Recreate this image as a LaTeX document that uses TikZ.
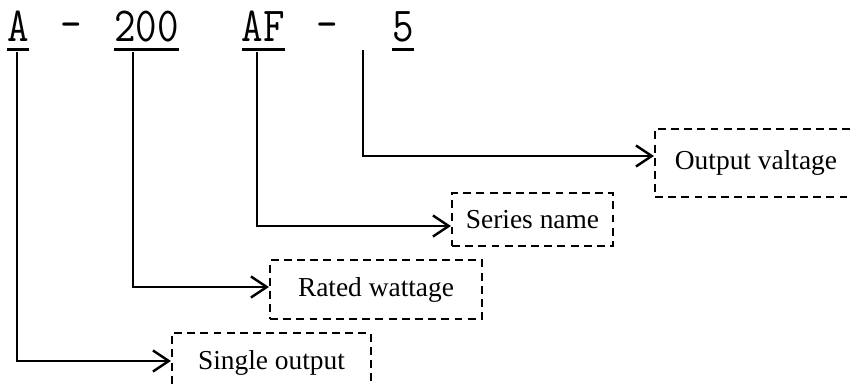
\documentclass[tikz,border=0pt]{standalone}
\usepackage{fontspec}
\setmainfont{Liberation Serif}
\usetikzlibrary{arrows.meta}
\newcommand{\tallchars}[1]{\scalebox{1}[1.17]{#1}}
\begin{document}
\begin{tikzpicture}[x=0.02cm,y=0.02cm,
        code/.style={font=\fontsize{23.8}{26}\selectfont\ttfamily, inner sep=0pt, text depth=0pt, anchor=base},
        uline/.style={line width=2pt},
        conn/.style={line width=1.4pt, -{Straight Barb[length=9pt,width=12pt]}},
        lbl/.style={draw, dash pattern=on 4.5pt off 3pt, line width=1.2pt, inner sep=0pt,
                font=\fontsize{15.6}{18}\selectfont}]
                \useasboundingbox (0,0) rectangle (851,385);

                % model code
                \node [code] (nA) at (18,343) {\tallchars{A}};
                \node [code] (dashA) at (71,345) {\tallchars{-}};
                \node [code] (nW) at (146.5,343) {\tallchars{200}};
                \node [code] (nS) at (263.5,343) {\tallchars{AF}};
                \node [code] (dashB) at (327.5,345) {\tallchars{-}};
                \node [code] (nV) at (403,343) {\tallchars{5}};

                \draw [uline] ([yshift=-0.14cm]nA.south west) -- ([yshift=-0.14cm]nA.south east);
                \draw [uline] ([yshift=-0.14cm]nW.south west) -- ([yshift=-0.14cm]nW.south east);
                \draw [uline] ([yshift=-0.14cm]nS.south west) -- ([yshift=-0.14cm]nS.south east);
                \draw [uline] ([yshift=-0.14cm]nV.south west) -- ([yshift=-0.14cm]nV.south east);

                % meaning boxes
                \node [lbl, minimum width=4.04cm, minimum height=1.36cm] (outv) at (756,222) {Output valtage};
                \node [lbl, minimum width=3.22cm, minimum height=1.06cm] (series) at (532.5,165.5) {Series name};
                \node [lbl, minimum width=4.24cm, minimum height=1.18cm] (rated) at (376,95.5) {Rated wattage};
                \node [lbl, minimum width=3.98cm, minimum height=1.2cm] (single) at (271.5,22) {Single output};

                % leaders
                \coordinate (tA) at (17,333);
                \coordinate (tW) at (133,333);
                \coordinate (tS) at (257,333);
                \coordinate (tV) at (363,335);

                \draw [conn] (tA) |- ([yshift=0.04cm]single.west);
                \draw [conn] (tW) |- ([yshift=0.05cm]rated.west);
                \draw [conn] (tS) |- ([yshift=-0.13cm]series.west);
                \draw [conn] (tV) |- ([yshift=0.14cm]outv.west);
            \end{tikzpicture}
\end{document}
